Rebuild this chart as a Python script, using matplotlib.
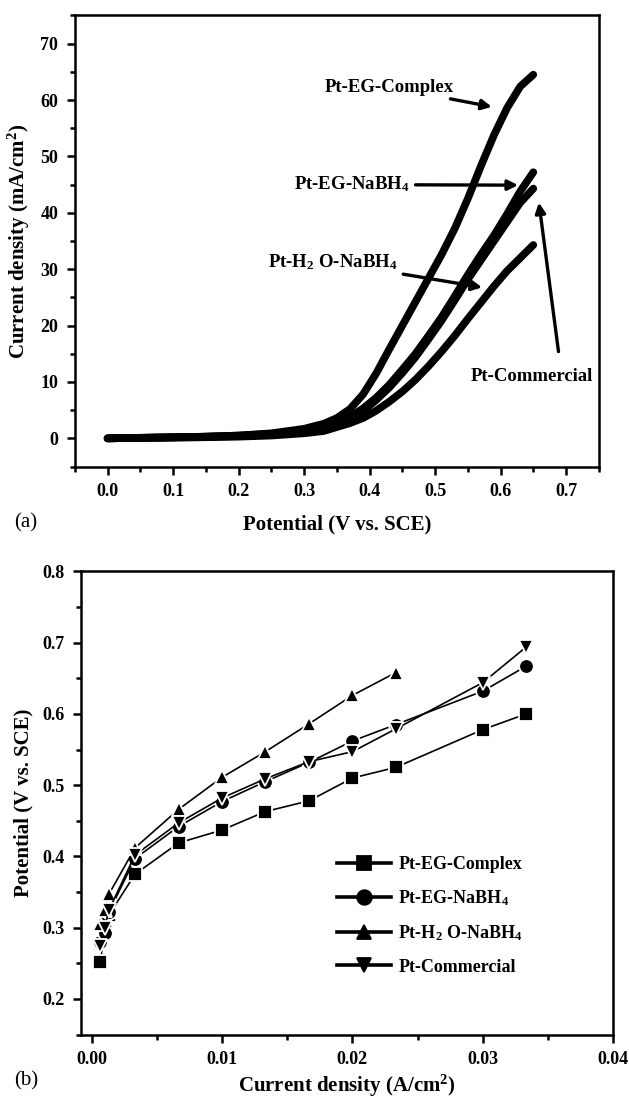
import numpy as np
import matplotlib
matplotlib.use('Agg')
import matplotlib.pyplot as plt
from matplotlib.ticker import MultipleLocator

plt.rcParams['font.family'] = ['Liberation Serif', 'DejaVu Serif']
plt.rcParams['font.weight'] = 'bold'
plt.rcParams['mathtext.fontset'] = 'custom'
plt.rcParams['mathtext.rm'] = 'Liberation Serif:bold'
plt.rcParams['mathtext.default'] = 'regular'

# (a) polarisation curves
pot = [0.0, 0.05, 0.1, 0.15, 0.2, 0.25, 0.3, 0.33, 0.35, 0.37, 0.39, 0.41, 0.43, 0.45, 0.47,
       0.49, 0.51, 0.53, 0.55, 0.57, 0.59, 0.61, 0.63, 0.65]
cur_complex = [0.0, 0.1, 0.2, 0.3, 0.5, 0.9, 1.7, 2.6, 3.6, 5.2, 7.8, 11.5, 15.8, 20.0, 24.2,
               28.4, 32.6, 37.2, 42.5, 48.3, 53.8, 58.6, 62.4, 64.5]
cur_eg = [0.0, 0.1, 0.2, 0.3, 0.5, 0.8, 1.4, 2.1, 2.7, 3.8, 5.3, 7.2, 9.5, 12.2, 15.0,
          18.2, 21.5, 25.2, 29.0, 32.6, 36.0, 39.8, 43.8, 47.2]
cur_comm = [0.0, 0.1, 0.2, 0.3, 0.4, 0.7, 1.2, 1.9, 2.4, 3.4, 4.8, 6.8, 9.0, 11.6, 14.4,
            17.6, 20.9, 24.5, 28.2, 31.6, 35.0, 38.4, 41.8, 44.3]
cur_h2o = [0.0, 0.1, 0.1, 0.2, 0.3, 0.5, 0.9, 1.3, 2.0, 2.7, 3.6, 4.9, 6.5, 8.3, 10.4,
           12.8, 15.4, 18.2, 21.2, 24.1, 27.0, 29.7, 32.0, 34.3]

# (b) potential vs current density
cd = [0.000667, 0.001, 0.00133, 0.00333, 0.00667, 0.01, 0.01333, 0.01667, 0.02, 0.02333, 0.03, 0.03333]
v_complex = [0.252, 0.295, 0.318, 0.375, 0.419, 0.437, 0.463, 0.478, 0.510, 0.525, 0.578, 0.600]
v_eg = [0.280, 0.292, 0.322, 0.397, 0.442, 0.477, 0.505, 0.532, 0.562, 0.585, 0.632, 0.667]
v_h2o = [0.305, 0.325, 0.347, 0.412, 0.466, 0.511, 0.547, 0.586, 0.626, 0.658]
v_comm = [0.275, 0.300, 0.325, 0.402, 0.447, 0.482, 0.509, 0.533, 0.547, 0.579, 0.644, 0.694]

labels = ['Pt-EG-Complex', 'Pt-EG-NaBH$_4$', 'Pt-H$_2$ O-NaBH$_4$', 'Pt-Commercial']


def style_axes(ax):
    for s in ax.spines.values():
        s.set_linewidth(1.8)
    ax.tick_params(which='both', direction='out', width=1.8, labelsize=13,
                   top=False, right=False)
    ax.tick_params(which='major', length=6, pad=6)
    ax.tick_params(which='minor', length=3.5)


fig = plt.figure(figsize=(6.29, 11.03), dpi=100)

# ---- panel a
ax1 = fig.add_axes([0.119, 0.577, 0.833, 0.409])
for c in [cur_complex, cur_eg, cur_comm, cur_h2o]:
    ax1.plot(pot, c, color='black', lw=5.5, solid_capstyle='round', solid_joinstyle='round')
ax1.set_xlim(-0.05, 0.75)
ax1.set_ylim(-5, 75)
ax1.xaxis.set_major_locator(MultipleLocator(0.1))
ax1.xaxis.set_minor_locator(MultipleLocator(0.05))
ax1.yaxis.set_major_locator(MultipleLocator(10))
ax1.yaxis.set_minor_locator(MultipleLocator(5))
ax1.xaxis.set_major_formatter(plt.FormatStrFormatter('%.1f'))
style_axes(ax1)
ax1.set_xlabel('Potential (V vs. SCE)', fontsize=15, fontweight='bold', labelpad=10)
ax1.set_ylabel('Current density (mA/cm$^2$)', fontsize=15, fontweight='bold', labelpad=6)

arr = dict(arrowstyle='-|>', color='black', lw=2.4, mutation_scale=15)
fs = 13.5
ax1.annotate(labels[0], xy=(0.591, 58.7), xytext=(0.331, 62.3), fontsize=fs,
             fontweight='bold', va='center', ha='left', arrowprops=arr)
ax1.annotate(labels[1], xy=(0.631, 44.9), xytext=(0.285, 45.0), fontsize=fs,
             fontweight='bold', va='center', ha='left', arrowprops=arr)
ax1.annotate(labels[2], xy=(0.576, 26.7), xytext=(0.245, 31.2), fontsize=fs,
             fontweight='bold', va='center', ha='left', arrowprops=arr)
ax1.text(0.554, 10.9, labels[3], fontsize=fs, fontweight='bold', va='center', ha='left')
ax1.annotate('', xy=(0.658, 42.3), xytext=(0.689, 14.9), arrowprops=arr)
fig.text(0.022, 0.526, '(a)', fontsize=15, fontweight='normal', va='center')

# ---- panel b
ax2 = fig.add_axes([0.129, 0.062, 0.846, 0.420])
mk = dict(color='black', lw=1.2, ms=10.5, mec='white', mew=1.3)
ax2.plot(cd, v_complex, marker='s', label=labels[0], **mk)
ax2.plot(cd, v_eg, marker='o', label=labels[1], **mk)
ax2.plot(cd[:len(v_h2o)], v_h2o, marker='^', label=labels[2], **mk)
ax2.plot(cd, v_comm, marker='v', label=labels[3], **mk)
ax2.set_xlim(-0.0008, 0.04)
ax2.set_ylim(0.15, 0.8)
ax2.xaxis.set_major_locator(MultipleLocator(0.01))
ax2.xaxis.set_minor_locator(MultipleLocator(0.005))
ax2.yaxis.set_major_locator(MultipleLocator(0.1))
ax2.yaxis.set_minor_locator(MultipleLocator(0.05))
ax2.xaxis.set_major_formatter(plt.FormatStrFormatter('%.2f'))
ax2.yaxis.set_major_formatter(plt.FormatStrFormatter('%.1f'))
style_axes(ax2)
ax2.set_xlabel('Current density (A/cm$^2$)', fontsize=15, fontweight='bold', labelpad=3)
ax2.set_ylabel('Potential (V vs. SCE)', fontsize=15, fontweight='bold', labelpad=6)
leg = ax2.legend(loc='upper left', bbox_to_anchor=(0.481, 0.385), frameon=False,
                 fontsize=13, handlelength=3.0, handletextpad=0.4, labelspacing=0.85,
                 borderpad=0, borderaxespad=0)
for h in leg.legend_handles:
    h.set_linewidth(2.6)
    h.set_markeredgecolor('black')
fig.text(0.022, 0.020, '(b)', fontsize=15, fontweight='normal', va='center')

fig.savefig('out.png', dpi=100)
